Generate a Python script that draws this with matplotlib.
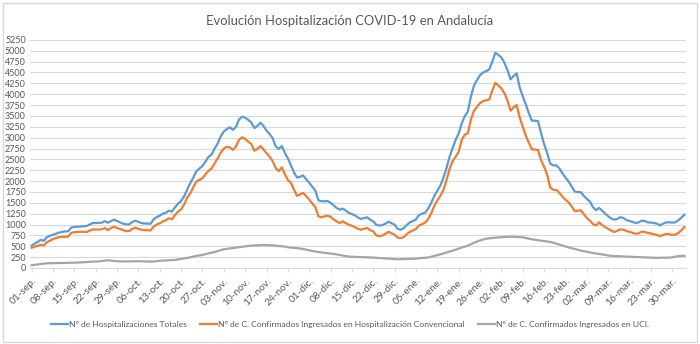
"""
Evolución de la hospitalización COVID-19 en Andalucía (sep. 2020 - abr. 2021)
"""

import matplotlib
matplotlib.use("Agg")
import matplotlib.pyplot as plt
from matplotlib.patches import Rectangle

plt.rcParams['font.family'] = ['Lato', 'DejaVu Sans']

# Daily series, starting 01-sep
totales = [
    517, 560, 600, 648, 625, 710, 740, 764, 790, 815, 830, 841, 845, 930, 945,
    950, 957, 960, 965, 1000, 1034, 1035, 1040, 1042, 1080, 1040, 1080, 1111, 1080, 1050,
    1020, 1003, 1005, 1060, 1088, 1060, 1034, 1025, 1020, 1019, 1120, 1170, 1204, 1250, 1270,
    1319, 1296, 1400, 1480, 1542, 1650, 1800, 1955, 2080, 2230, 2290, 2347, 2450, 2560, 2610,
    2750, 2868, 3030, 3140, 3200, 3237, 3180, 3250, 3420, 3482, 3460, 3410, 3350, 3220, 3270,
    3344, 3270, 3160, 3083, 2990, 2800, 2740, 2807, 2650, 2523, 2360, 2200, 2080, 2100, 2131,
    2040, 1961, 1870, 1780, 1560, 1536, 1536, 1540, 1500, 1440, 1380, 1343, 1366, 1320, 1266,
    1240, 1210, 1160, 1127, 1150, 1166, 1110, 1073, 990, 975, 990, 1020, 1065, 1030, 996,
    900, 880, 920, 990, 1050, 1080, 1120, 1220, 1250, 1273, 1370, 1500, 1660, 1780, 1900,
    2080, 2300, 2560, 2760, 2950, 3100, 3330, 3500, 3600, 3950, 4200, 4326, 4440, 4500, 4530,
    4570, 4750, 4955, 4900, 4847, 4720, 4550, 4341, 4420, 4479, 4150, 3950, 3760, 3560, 3390,
    3390, 3382, 3100, 2850, 2640, 2400, 2362, 2362, 2290, 2180, 2080, 1990, 1880, 1760, 1745,
    1745, 1660, 1590, 1530, 1400, 1330, 1382, 1320, 1251, 1190, 1140, 1112, 1130, 1170, 1150,
    1100, 1080, 1060, 1034, 1050, 1090, 1080, 1050, 1045, 1035, 1020, 980, 1020, 1050, 1050,
    1045, 1050, 1100, 1160, 1227,
]

convencional = [
    463, 490, 510, 533, 517, 594, 630, 664, 690, 710, 715, 718, 720, 810, 825,
    830, 834, 830, 826, 860, 888, 885, 886, 888, 919, 872, 920, 950, 920, 896,
    870, 849, 850, 900, 926, 900, 880, 872, 868, 865, 950, 1000, 1028, 1070, 1100,
    1143, 1120, 1220, 1300, 1350, 1460, 1620, 1718, 1860, 1990, 2030, 2063, 2160, 2240, 2290,
    2410, 2523, 2660, 2750, 2790, 2777, 2720, 2800, 2950, 3007, 2968, 2910, 2853, 2700, 2740,
    2807, 2731, 2640, 2562, 2460, 2300, 2230, 2316, 2160, 2025, 1960, 1800, 1660, 1691, 1729,
    1650, 1575, 1480, 1400, 1190, 1166, 1189, 1204, 1180, 1120, 1070, 1034, 1073, 1030, 996,
    970, 940, 900, 880, 905, 919, 870, 841, 750, 730, 750, 790, 834, 800, 764,
    700, 687, 710, 780, 830, 865, 900, 980, 1010, 1043, 1130, 1260, 1430, 1560, 1660,
    1800, 2020, 2280, 2460, 2560, 2680, 2950, 3070, 3099, 3420, 3620, 3712, 3800, 3840, 3860,
    3880, 4080, 4265, 4200, 4134, 4020, 3850, 3620, 3700, 3751, 3460, 3250, 3040, 2880, 2731,
    2725, 2715, 2480, 2330, 2150, 1850, 1800, 1795, 1730, 1640, 1570, 1510, 1420, 1310, 1320,
    1328, 1240, 1150, 1090, 1010, 980, 1050, 990, 942, 900, 860, 826, 860, 890, 880,
    850, 830, 810, 787, 800, 835, 830, 805, 795, 775, 764, 730, 760, 787, 775,
    764, 770, 805, 870, 942,
]

uci = [
    62, 72, 82, 92, 100, 108, 110, 112, 113, 114, 115, 116, 118, 120, 122,
    125, 128, 133, 139, 142, 145, 148, 152, 160, 170, 178, 170, 162, 154, 152,
    150, 150, 152, 155, 158, 156, 154, 150, 148, 147, 150, 158, 165, 170, 174,
    178, 181, 184, 195, 208, 220, 230, 245, 262, 278, 290, 299, 318, 336, 352,
    368, 390, 410, 430, 440, 450, 460, 468, 478, 490, 500, 508, 514, 518, 522,
    526, 529, 528, 524, 520, 514, 505, 498, 494, 476, 468, 462, 455, 448, 436,
    422, 406, 392, 378, 368, 358, 348, 338, 330, 324, 312, 300, 288, 275, 262,
    258, 255, 252, 250, 248, 247, 243, 238, 234, 229, 224, 220, 215, 210, 205,
    200, 202, 204, 206, 208, 210, 215, 222, 228, 234, 242, 258, 276, 295, 314,
    335, 356, 378, 399, 420, 445, 470, 492, 514, 545, 578, 610, 635, 655, 675,
    683, 690, 698, 703, 708, 714, 718, 721, 718, 714, 710, 706, 690, 675, 660,
    648, 638, 629, 622, 612, 600, 580, 560, 540, 515, 495, 475, 455, 438, 420,
    400, 385, 372, 358, 345, 334, 324, 312, 300, 288, 278, 275, 272, 269, 266,
    264, 262, 259, 256, 252, 249, 247, 244, 240, 236, 232, 234, 236, 238, 239,
    245, 262, 275, 278, 278,
]

# one label every 7 days
tick_labels = [
    '01-sep.', '08-sep.', '15-sep.', '22-sep.', '29-sep.',
    '06-oct.', '13-oct.', '20-oct.', '27-oct.',
    '03-nov.', '10-nov.', '17-nov.', '24-nov.',
    '01-dic.', '08-dic.', '15-dic.', '22-dic.', '29-dic.',
    '05-ene.', '12-ene.', '19-ene.', '26-ene.',
    '02-feb.', '09-feb.', '16-feb.', '23-feb.',
    '02-mar.', '09-mar.', '16-mar.', '23-mar.', '30-mar.',
]

series_names = [
    'Nº de Hospitalizaciones Totales',
    'Nº de C. Confirmados Ingresados en Hospitalización Convencional',
    'Nº de C. Confirmados Ingresados en UCI.',
]

TEXT = '#595959'
GRID = '#d9d9d9'


def create_chart():
    fig = plt.figure(figsize=(7.0, 3.44), dpi=100)
    ax = fig.add_axes([0.043, 0.221, 0.937, 0.663])

    days = range(len(totales))
    colors = ['#5B9BD5', '#ED7D31', '#A5A5A5']
    for values, color, name in zip([totales, convencional, uci], colors, series_names):
        ax.plot(days, values, color=color, linewidth=1.6, label=name,
                solid_joinstyle='round')

    ax.set_xlim(-0.5, len(totales) - 0.5)
    ax.set_ylim(0, 5250)
    ax.set_yticks(range(0, 5251, 250))
    ax.set_xticks(range(0, 7 * len(tick_labels), 7))
    ax.set_xticklabels(tick_labels, rotation=45, ha='right',
                       rotation_mode='anchor')

    ax.tick_params(axis='y', length=0, labelsize=6.5, labelcolor=TEXT, pad=3)
    ax.tick_params(axis='x', length=3, color=GRID, labelsize=7.3,
                   labelcolor=TEXT, pad=3)
    ax.grid(axis='y', color=GRID, linewidth=0.8)
    ax.set_axisbelow(True)
    for side in ['left', 'right', 'top']:
        ax.spines[side].set_visible(False)
    ax.spines['bottom'].set_color(GRID)

    fig.suptitle('Evolución Hospitalización COVID-19 en Andalucía',
                 y=0.955, fontsize=9.4, color=TEXT)

    fig.legend(loc='center', bbox_to_anchor=(0.5, 0.058), ncol=3,
               frameon=False, fontsize=6.1, labelcolor=TEXT,
               handlelength=2.0, handletextpad=0.2, columnspacing=1.5)

    # chart area border
    fig.patches.append(Rectangle((0.004, 0.006), 0.992, 0.985,
                                 transform=fig.transFigure, fill=False,
                                 edgecolor=GRID, linewidth=1))

    fig.savefig('out.png', dpi=100)


if __name__ == '__main__':
    create_chart()
